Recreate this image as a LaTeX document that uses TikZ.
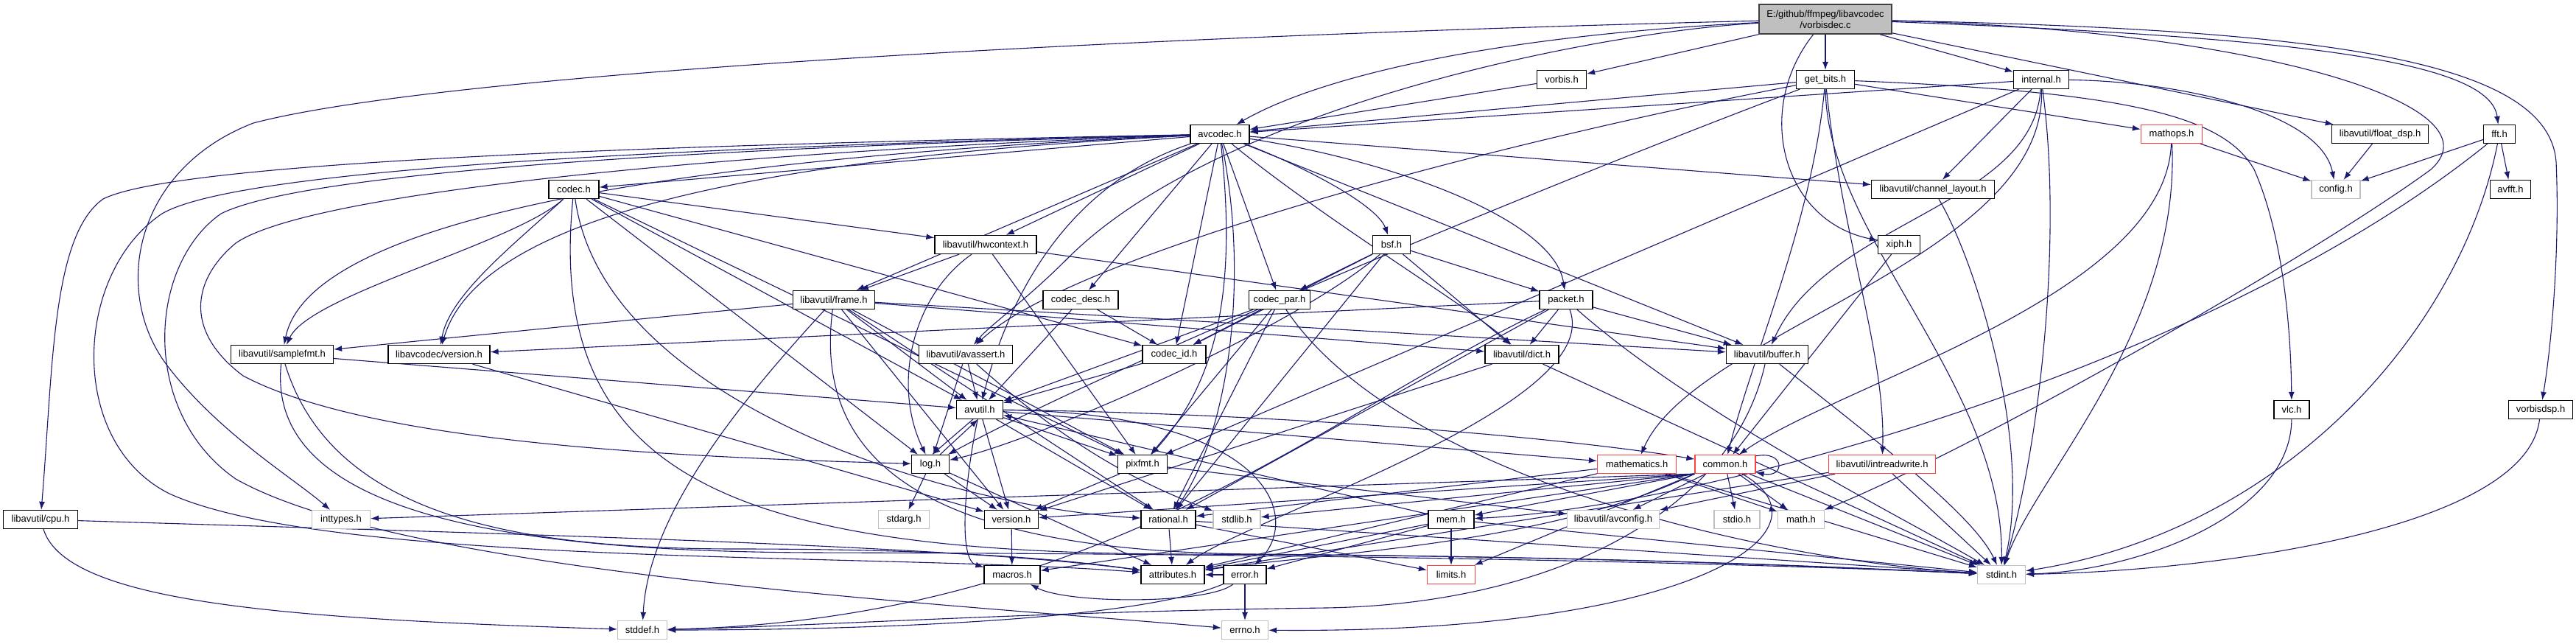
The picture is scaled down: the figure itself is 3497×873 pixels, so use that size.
\documentclass[tikz,border=0pt]{standalone}
\usepackage{fontspec}
\setmainfont{Liberation Sans}
\usetikzlibrary{arrows.meta}
\definecolor{edgec}{RGB}{25,25,112}
\definecolor{redb}{RGB}{255,64,64}
\definecolor{grayb}{RGB}{191,191,191}
\definecolor{mainfill}{RGB}{191,191,191}
\definecolor{mainb}{RGB}{64,64,64}
\pgfdeclarelayer{edgelayer}
\pgfsetlayers{edgelayer,main}
\begin{document}
\begin{tikzpicture}[x=1pt,y=-1pt,
 box/.style={draw=black,line width=1.2pt,fill=white,minimum height=25pt,inner sep=0pt,font=\fontsize{13}{15}\selectfont},
 redbox/.style={box,draw=redb},
 graybox/.style={box,draw=grayb},
 mainbox/.style={box,draw=mainb,line width=1.6pt,fill=mainfill,align=center},
 dep/.style={draw=edgec,line width=1.1pt,-{Latex[length=11pt,width=8pt]}}]
\useasboundingbox (0,0) rectangle (3497,873);
% nodes
\node[mainbox,minimum width=180pt,minimum height=40pt] (main) at (2478,26) {E:/github/ffmpeg/libavcodec\\/vorbisdec.c};
\node[box,minimum width=67pt] (vorbis) at (2120,108) {vorbis.h};
\node[box,minimum width=79pt] (getbits) at (2478,108) {get\_bits.h};
\node[box,minimum width=75pt] (internal) at (2771,108) {internal.h};
\node[box,minimum width=80pt] (avcodec) at (1656,182) {avcodec.h};
\node[redbox,minimum width=83pt] (mathops) at (2948,182) {mathops.h};
\node[box,minimum width=131pt] (floatdsp) at (3231,182) {libavutil/float\_dsp.h};
\node[box,minimum width=43pt] (fft) at (3393,182) {fft.h};
\node[box,minimum width=68pt] (codec) at (779,257) {codec.h};
\node[box,minimum width=167pt] (chlayout) at (2624,257) {libavutil/channel\_layout.h};
\node[graybox,minimum width=66pt] (config) at (3171,257) {config.h};
\node[box,minimum width=55pt] (avfft) at (3408,257) {avfft.h};
\node[box,minimum width=138pt] (hwcontext) at (1338,332) {libavutil/hwcontext.h};
\node[box,minimum width=51pt] (bsf) at (1889,332) {bsf.h};
\node[box,minimum width=57pt] (xiph) at (2578,332) {xiph.h};
\node[box,minimum width=111pt] (frame) at (1132,407) {libavutil/frame.h};
\node[box,minimum width=102pt] (codecdesc) at (1467,407) {codec\_desc.h};
\node[box,minimum width=83pt] (codecpar) at (1737,407) {codec\_par.h};
\node[box,minimum width=72pt] (packet) at (2126,407) {packet.h};
\node[box,minimum width=139pt] (samplefmt) at (383,481) {libavutil/samplefmt.h};
\node[box,minimum width=138pt] (avversion) at (596,481) {libavcodec/version.h};
\node[box,minimum width=127pt] (avassert) at (1311,481) {libavutil/avassert.h};
\node[box,minimum width=86pt] (codecid) at (1594,481) {codec\_id.h};
\node[box,minimum width=100pt] (dict) at (2066,481) {libavutil/dict.h};
\node[box,minimum width=111pt] (buffer) at (2399,481) {libavutil/buffer.h};
\node[box,minimum width=63pt] (avutil) at (1330,556) {avutil.h};
\node[box,minimum width=48pt] (vlc) at (3111,556) {vlc.h};
\node[box,minimum width=87pt] (vorbisdsp) at (3449,556) {vorbisdsp.h};
\node[box,minimum width=51pt] (log) at (1263,630) {log.h};
\node[box,minimum width=67pt] (pixfmt) at (1551,630) {pixfmt.h};
\node[redbox,minimum width=107pt] (mathematics) at (2222,630) {mathematics.h};
\node[redbox,minimum width=82pt] (common) at (2342,630) {common.h};
\node[redbox,minimum width=145pt] (intreadwrite) at (2555,630) {libavutil/intreadwrite.h};
\node[box,minimum width=101pt] (cpu) at (55,705) {libavutil/cpu.h};
\node[graybox,minimum width=79pt] (inttypes) at (463,705) {inttypes.h};
\node[graybox,minimum width=69pt] (stdarg) at (1227,705) {stdarg.h};
\node[box,minimum width=73pt] (version) at (1373,705) {version.h};
\node[box,minimum width=74pt] (rational) at (1586,705) {rational.h};
\node[graybox,minimum width=64pt] (stdlib) at (1679,705) {stdlib.h};
\node[box,minimum width=62pt] (mem) at (1970,705) {mem.h};
\node[graybox,minimum width=125pt] (avconfig) at (2190,705) {libavutil/avconfig.h};
\node[graybox,minimum width=62pt] (stdio) at (2358,705) {stdio.h};
\node[graybox,minimum width=63pt] (math) at (2445,705) {math.h};
\node[box,minimum width=76pt] (macros) at (1374,780) {macros.h};
\node[box,minimum width=86pt] (attributes) at (1592,780) {attributes.h};
\node[box,minimum width=58pt] (error) at (1690,780) {error.h};
\node[redbox,minimum width=65pt] (limits) at (1970,780) {limits.h};
\node[graybox,minimum width=65pt] (stdint) at (2717,780) {stdint.h};
\node[graybox,minimum width=67pt] (stddef) at (872,855) {stddef.h};
\node[graybox,minimum width=63pt] (errno) at (1690,855) {errno.h};
\begin{pgfonlayer}{edgelayer}
\fill[white] (0,0) rectangle (3497,873);
% main
\draw[dep] (main) -- (vorbis);
\draw[dep] (main) -- (getbits);
\draw[dep] (main) -- (internal);
\draw[dep] (main) .. controls (2000,50) and (1780,110) .. (avcodec);
\draw[dep] (main) .. controls (2380,150) and (2420,300) .. (xiph);
\draw[dep] (main) .. controls (2150,45) and (1650,150) .. (1450,350) .. controls (1390,410) and (1345,440) .. (avassert);
\draw[dep] (main) .. controls (1500,50) and (600,100) .. (344,167) .. controls (180,230) and (150,400) .. (230,500) .. controls (300,590) and (400,650) .. (inttypes);
\draw[dep] (main) .. controls (3050,40) and (3400,140) .. (3300,230) .. controls (3150,340) and (2700,600) .. (math);
\draw[dep] (main) -- (floatdsp);
\draw[dep] (main) .. controls (3100,50) and (3380,80) .. (fft);
\draw[dep] (main) .. controls (3150,40) and (3460,80) .. (3470,220) .. controls (3475,330) and (3465,460) .. (vorbisdsp);
% vorbis, get_bits
\draw[dep] (vorbis) -- (avcodec);
\draw[dep] (getbits) -- (avcodec);
\draw[dep] (getbits) .. controls (2000,200) and (1450,350) .. (avassert);
\draw[dep] (getbits) .. controls (2100,250) and (1500,500) .. (log);
\draw[dep] (getbits) .. controls (2460,300) and (2380,480) .. (common);
\draw[dep] (getbits) .. controls (2500,320) and (2560,480) .. (intreadwrite);
\draw[dep] (getbits) -- (mathops);
\draw[dep] (getbits) .. controls (2900,125) and (3020,160) .. (3060,230) .. controls (3100,320) and (3110,450) .. (vlc);
\draw[dep] (getbits) .. controls (2480,320) and (2720,520) .. (stdint);
% internal
\draw[dep] (internal) -- (avcodec);
\draw[dep] (internal) -- (chlayout);
\draw[dep] (internal) .. controls (2760,280) and (2480,300) .. (buffer);
\draw[dep] (internal) .. controls (2780,350) and (2300,450) .. (mathematics);
\draw[dep] (internal) -- (pixfmt);
\draw[dep] (internal) .. controls (2950,110) and (3150,150) .. (config);
\draw[dep] (internal) .. controls (2800,320) and (2770,600) .. (stdint);
% avcodec
\draw[dep] (avcodec) -- (codec);
\draw[dep] (avcodec) -- (hwcontext);
\draw[dep] (avcodec) -- (frame);
\draw[dep] (avcodec) -- (codecdesc);
\draw[dep] (avcodec) -- (codecpar);
\draw[dep] (avcodec) -- (codecid);
\draw[dep] (avcodec) -- (chlayout);
\draw[dep] (avcodec) .. controls (1800,300) and (2000,420) .. (dict);
\draw[dep] (avcodec) -- (buffer);
\draw[dep] (avcodec) .. controls (1450,250) and (1370,400) .. (avutil);
\draw[dep] (avcodec) .. controls (1680,400) and (1650,520) .. (pixfmt);
\draw[dep] (avcodec) .. controls (1700,400) and (1660,600) .. (rational);
\draw[dep] (avcodec) .. controls (1780,230) and (1870,280) .. (bsf);
\draw[dep] (avcodec) .. controls (1900,220) and (2110,300) .. (packet);
\draw[dep] (avcodec) .. controls (900,215) and (420,300) .. (samplefmt);
\draw[dep] (avcodec) .. controls (1000,215) and (650,300) .. (avversion);
\draw[dep] (avcodec) .. controls (1000,195) and (250,215) .. (140,270) .. controls (70,320) and (72,500) .. (cpu);
\draw[dep] (avcodec) .. controls (1000,198) and (330,225) .. (220,290) .. controls (100,370) and (90,600) .. (230,670) .. controls (450,770) and (1200,750) .. (attributes);
\draw[dep] (avcodec) .. controls (1000,200) and (420,230) .. (300,290) .. controls (200,360) and (190,560) .. (320,650) .. controls (550,780) and (1300,820) .. (errno);
\draw[dep] (avcodec) .. controls (1000,205) and (420,260) .. (320,330) .. controls (260,380) and (250,450) .. (330,510) .. controls (500,600) and (900,620) .. (log);
% codec
\draw[dep] (codec) .. controls (700,330) and (420,400) .. (samplefmt);
\draw[dep] (codec) .. controls (700,330) and (610,400) .. (avversion);
\draw[dep] (codec) -- (hwcontext);
\draw[dep] (codec) -- (codecid);
\draw[dep] (codec) -- (avutil);
\draw[dep] (codec) -- (log);
\draw[dep] (codec) -- (pixfmt);
\draw[dep] (codec) .. controls (820,550) and (1300,690) .. (rational);
\draw[dep] (codec) .. controls (740,650) and (1000,750) .. (1600,752) .. controls (2200,754) and (2500,770) .. (stdint);
% hwcontext
\draw[dep] (hwcontext) -- (frame);
\draw[dep] (hwcontext) -- (buffer);
\draw[dep] (hwcontext) .. controls (1240,400) and (1210,520) .. (log);
\draw[dep] (hwcontext) -- (pixfmt);
% frame
\draw[dep] (frame) -- (samplefmt);
\draw[dep] (frame) -- (avutil);
\draw[dep] (frame) -- (buffer);
\draw[dep] (frame) -- (dict);
\draw[dep] (frame) -- (rational);
\draw[dep] (frame) -- (pixfmt);
\draw[dep] (frame) -- (version);
\draw[dep] (frame) .. controls (1000,550) and (880,700) .. (stddef);
\draw[dep] (frame) .. controls (1100,650) and (1300,748) .. (1700,752) .. controls (2200,756) and (2500,770) .. (stdint);
% codec_desc, codec_par
\draw[dep] (codecdesc) -- (avutil);
\draw[dep] (codecdesc) -- (codecid);
\draw[dep] (codecpar) -- (codecid);
\draw[dep] (codecpar) -- (avutil);
\draw[dep] (codecpar) -- (rational);
\draw[dep] (codecpar) -- (pixfmt);
\draw[dep] (codecpar) .. controls (1900,650) and (2400,760) .. (stdint);
% bsf
\draw[dep] (bsf) -- (dict);
\draw[dep] (bsf) .. controls (1750,450) and (1400,600) .. (log);
\draw[dep] (bsf) -- (rational);
\draw[dep] (bsf) -- (codecid);
\draw[dep] (bsf) -- (codecpar);
\draw[dep] (bsf) -- (packet);
% packet
\draw[dep] (packet) .. controls (1800,560) and (1500,840) .. (stddef);
\draw[dep] (packet) .. controls (2300,560) and (2560,690) .. (stdint);
\draw[dep] (packet) .. controls (2180,550) and (1700,700) .. (attributes);
\draw[dep] (packet) -- (buffer);
\draw[dep] (packet) -- (dict);
\draw[dep] (packet) -- (rational);
\draw[dep] (packet) -- (avversion);
% samplefmt, libavcodec/version, cpu
\draw[dep] (samplefmt) -- (avutil);
\draw[dep] (samplefmt) .. controls (450,700) and (700,745) .. (1000,745) .. controls (1300,745) and (1450,760) .. (attributes);
\draw[dep] (samplefmt) .. controls (360,700) and (700,748) .. (1100,750) .. controls (2000,752) and (2500,770) .. (stdint);
\draw[dep] (avversion) -- (version);
\draw[dep] (cpu) .. controls (90,820) and (400,840) .. (stddef);
\draw[dep] (cpu) .. controls (700,725) and (1300,740) .. (attributes);
% avassert, codec_id
\draw[dep] (avassert) -- (avutil);
\draw[dep] (avassert) -- (log);
\draw[dep] (avassert) .. controls (1400,560) and (1500,640) .. (stdlib);
\draw[dep] (codecid) -- (avutil);
% avutil
\draw[dep] (avutil) .. controls (1700,560) and (2100,590) .. (common);
\draw[dep] (avutil) .. controls (1720,560) and (1770,700) .. (error);
\draw[dep] (avutil) -- (rational);
\draw[dep] (avutil) -- (version);
\draw[dep] (avutil) .. controls (1310,650) and (1300,760) .. (macros);
\draw[dep] (avutil) -- (mathematics);
\draw[dep] (avutil.235) -- (log.80);
\draw[dep] (avutil) -- (pixfmt);
% log, pixfmt
\draw[dep] (log.45) -- (avutil.260);
\draw[dep] (log) -- (stdarg);
\draw[dep] (log) -- (version);
\draw[dep] (log) -- (attributes);
\draw[dep] (pixfmt) -- (version);
\draw[dep] (pixfmt) -- (avconfig);
% dict, buffer, channel_layout
\draw[dep] (dict) -- (version);
\draw[dep] (dict) -- (stdint);
\draw[dep] (buffer) .. controls (2350,700) and (2100,820) .. (1800,825) .. controls (1400,830) and (1100,850) .. (stddef);
\draw[dep] (buffer) .. controls (2550,600) and (2680,700) .. (stdint);
\draw[dep] (chlayout) .. controls (2680,350) and (2760,600) .. (stdint);
% mathematics
\draw[dep] (mathematics) -- (stdint);
\draw[dep] (mathematics) -- (math);
\draw[dep] (mathematics) -- (attributes);
\draw[dep] (mathematics) -- (rational);
% common
\draw[dep] (common) .. controls (2500,720) and (2300,860) .. (errno);
\draw[dep] (common.south west) -- (inttypes);
\draw[dep] (common.south west) -- (limits);
\draw[dep] (common) -- (math);
\draw[dep] (common) -- (stdint);
\draw[dep] (common) -- (stdio);
\draw[dep] (common.south west) -- (stdlib);
\draw[dep] (common.south west) .. controls (2100,740) and (1800,750) .. (attributes);
\draw[dep] (common.south west) -- (macros);
\draw[dep] (common.south west) -- (version);
\draw[dep] (common) -- (avconfig);
\draw[dep] (common.south west) -- (mem);
\draw[dep] (common.15) .. controls +(40,-8) and +(40,8) .. (common.-15);
% mem, rational, version, error
\draw[dep] (mem) -- (limits);
\draw[dep] (mem) -- (stdint);
\draw[dep] (mem) -- (attributes);
\draw[dep] (mem) -- (error);
\draw[dep] (mem) -- (avutil);
\draw[dep] (rational) -- (attributes);
\draw[dep] (rational) -- (limits);
\draw[dep] (rational) -- (stdint);
\draw[dep] (version) -- (macros);
\draw[dep] (error) -- (errno);
\draw[dep] (error) .. controls (1550,840) and (1200,855) .. (stddef);
\draw[dep] (error) -- (attributes);
\draw[dep] (error) .. controls (1640,820) and (1450,820) .. (macros);
% intreadwrite, mathops, xiph, fft, float_dsp, vlc, vorbisdsp
\draw[dep] (intreadwrite) -- (stdint);
\draw[dep] (intreadwrite) -- (avconfig);
\draw[dep] (intreadwrite) -- (attributes);
\draw[dep] (mathops) -- (config);
\draw[dep] (mathops) .. controls (2940,400) and (2500,520) .. (common);
\draw[dep] (mathops) .. controls (2960,450) and (2760,650) .. (stdint);
\draw[dep] (xiph) -- (common);
\draw[dep] (fft) -- (config);
\draw[dep] (fft) -- (avfft);
\draw[dep] (fft) .. controls (3000,500) and (2300,690) .. (mem);
\draw[dep] (fft) .. controls (3340,450) and (3100,720) .. (stdint);
\draw[dep] (floatdsp) -- (config);
\draw[dep] (vlc) .. controls (3110,700) and (2900,775) .. (stdint);
\draw[dep] (vorbisdsp) .. controls (3430,720) and (3000,775) .. (stdint);
\end{pgfonlayer}
\end{tikzpicture}
\end{document}
